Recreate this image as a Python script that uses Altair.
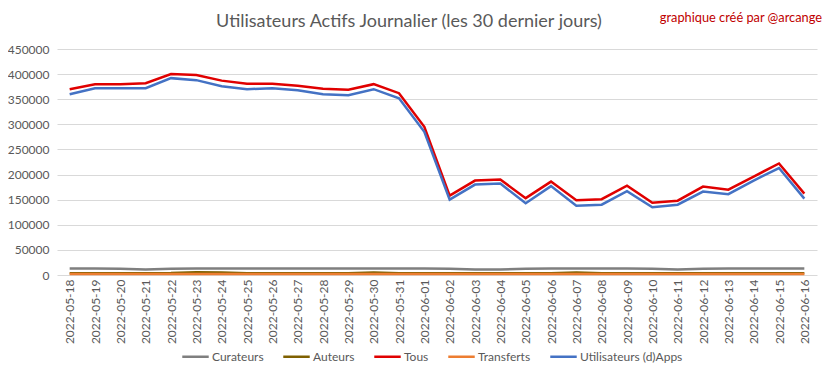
import altair as alt
import pandas as pd

dates = ["2022-05-18", "2022-05-19", "2022-05-20", "2022-05-21", "2022-05-22", "2022-05-23",
         "2022-05-24", "2022-05-25", "2022-05-26", "2022-05-27", "2022-05-28", "2022-05-29",
         "2022-05-30", "2022-05-31", "2022-06-01", "2022-06-02", "2022-06-03", "2022-06-04",
         "2022-06-05", "2022-06-06", "2022-06-07", "2022-06-08", "2022-06-09", "2022-06-10",
         "2022-06-11", "2022-06-12", "2022-06-13", "2022-06-14", "2022-06-15", "2022-06-16"]

curateurs = [13000, 13000, 12500, 11000, 12500, 13000, 13000, 13000, 13000, 13000, 13000, 13000,
             13000, 13000, 13000, 12500, 11000, 11000, 12500, 13000, 13000, 13000, 13000, 12500,
             11000, 12500, 13000, 13000, 13000, 13000]
auteurs = [3400, 3400, 3400, 3400, 3800, 5500, 5200, 3600, 3400, 3400, 3400, 3600,
           5000, 3600, 3400, 3400, 3400, 3400, 3400, 3600, 5000, 3600, 3400, 3400,
           3400, 3400, 3400, 3400, 3400, 3400]
tous = [370000, 380000, 380000, 382000, 400000, 398000, 387000, 381000, 381000, 377000,
        371000, 369000, 380000, 362000, 295000, 158000, 188000, 190000, 153000, 186000,
        149000, 151000, 178000, 144000, 148000, 176000, 170000, 196000, 222000, 162000]
transferts = [1800, 1800, 1800, 1800, 1800, 1800, 1800, 1800, 1800, 1800, 1800, 1800,
              1800, 1800, 1800, 1800, 1800, 1800, 1800, 1800, 1800, 1800, 1800, 1800,
              1800, 1800, 1800, 1800, 1800, 1800]
utilisateurs = [360000, 372000, 372000, 372000, 392000, 388000, 376000, 370000, 372000, 368000,
                360000, 358000, 370000, 352000, 285000, 150000, 180000, 182000, 143000, 177000,
                138000, 140000, 167000, 135000, 140000, 166000, 161000, 188000, 213000, 152000]

series_names = ["Curateurs", "Auteurs", "Tous", "Transferts", "Utilisateurs (d)Apps"]
series_values = [curateurs, auteurs, tous, transferts, utilisateurs]
series_colors = ["#7f7f7f", "#7f6000", "#e00000", "#ed7d31", "#4472c4"]
y_ticks = [0, 50000, 100000, 150000, 200000, 250000, 300000, 350000, 400000, 450000]

title_text = "Utilisateurs Actifs Journalier (les 30 dernier jours)"
credit_text = "graphique créé par @arcange"

rows = []
for k, (name, vals) in enumerate(zip(series_names, series_values)):
    for d, v in zip(dates, vals):
        rows.append({"date": d, "serie": name, "value": v, "order": k})
df = pd.DataFrame(rows)

FONT = "Lato"
GREY = "#595959"

lines = alt.Chart(df).mark_line(strokeWidth=2.5).encode(
    x=alt.X("date:O", sort=dates,
            scale=alt.Scale(type="point", padding=0.5),
            axis=alt.Axis(title=None, labelAngle=-90, labelFont=FONT, labelFontSize=12,
                          labelColor=GREY, ticks=False, domain=False, grid=False,
                          labelPadding=4)),
    y=alt.Y("value:Q",
            scale=alt.Scale(domain=[0, 450000], nice=False),
            axis=alt.Axis(title=None, values=y_ticks, format="d", labelFont=FONT,
                          labelFontSize=12, labelColor=GREY, ticks=False, domain=False,
                          gridColor="#d9d9d9", gridWidth=1, labelPadding=8)),
    color=alt.Color("serie:N", sort=series_names,
                    scale=alt.Scale(domain=series_names, range=series_colors),
                    legend=alt.Legend(title=None, orient="none", direction="horizontal",
                                      legendX=124, legendY=293, columns=5,
                                      symbolType="stroke", symbolStrokeWidth=2.5,
                                      symbolSize=700, labelFont=FONT, labelFontSize=12,
                                      labelColor=GREY, columnPadding=14, labelOffset=2)),
    order=alt.Order("order:Q"),
    detail="serie:N",
)

title = alt.Chart(pd.DataFrame({"t": [title_text]})).mark_text(
    align="center", baseline="middle", font=FONT, fontSize=18, color=GREY
).encode(text="t:N", x=alt.value(352), y=alt.value(-27))

credit = alt.Chart(pd.DataFrame({"t": [credit_text]})).mark_text(
    align="right", baseline="middle", font=FONT, fontSize=12.8, color="#c00000"
).encode(text="t:N", x=alt.value(765), y=alt.value(-31))

chart = alt.layer(lines, title, credit).properties(
    width=760, height=226,
    autosize=alt.AutoSizeParams(type="none"),
    padding={"left": 49, "top": 41, "right": 8, "bottom": 96},
).configure_view(stroke=None)

chart.save("out.html", embed_options={"renderer": "svg", "actions": False})
